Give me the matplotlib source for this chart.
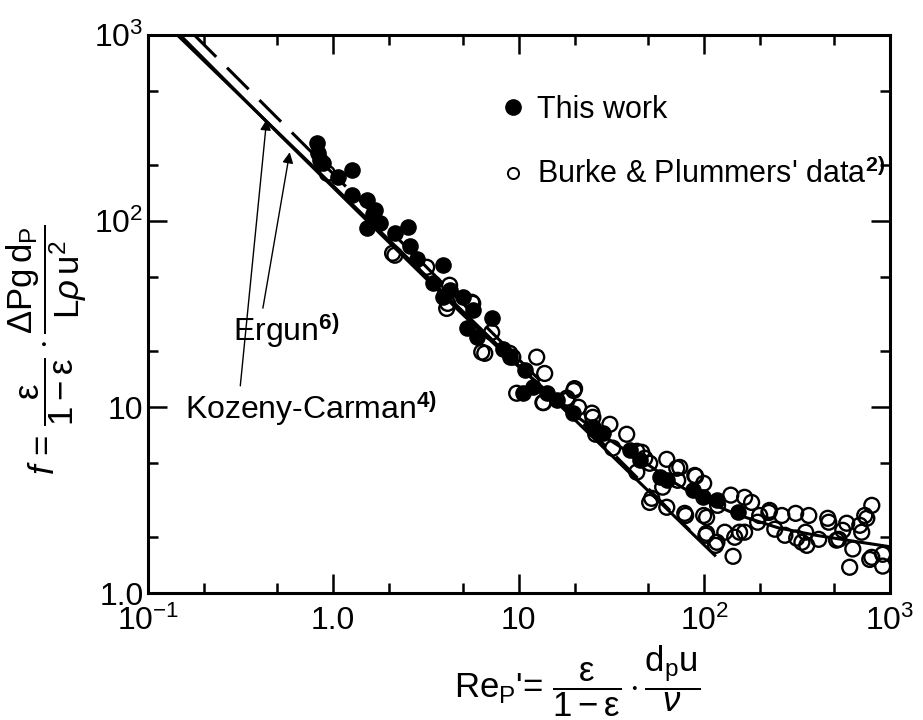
import numpy as np
import matplotlib.pyplot as plt
from matplotlib.lines import Line2D
from matplotlib.ticker import FixedLocator, FixedFormatter, LogLocator, NullFormatter

plt.rcParams['font.family'] = ['Liberation Sans', 'DejaVu Sans']
plt.rcParams['mathtext.fontset'] = 'custom'
plt.rcParams['mathtext.rm'] = 'Liberation Sans'
plt.rcParams['mathtext.it'] = 'Liberation Sans:italic'
plt.rcParams['mathtext.bf'] = 'Liberation Sans:bold'
plt.rcParams['mathtext.sf'] = 'Liberation Sans'

# "This work" (filled circles)
work_re = [0.815, 0.845, 0.83, 0.877, 1.27, 1.06, 1.26, 1.52, 1.67, 1.52, 1.78, 1.63,
           2.15, 2.52, 2.58, 2.82, 3.89, 3.44, 4.24, 4.99, 5.65, 3.89, 7.15, 5.25,
           5.94, 8.2, 8.94, 10.8, 10.5, 11.9, 14.2, 16.0, 19.5, 25.1, 28.4, 39.6,
           44.9, 57.5, 62.8, 86.7, 98.2, 117, 152]
work_f = [262, 213, 232, 205, 188, 173, 138, 130, 115, 92, 97.5, 110,
          86, 93, 74, 63, 58, 46.4, 42.6, 39, 33.2, 39, 30.1, 26.6,
          23.8, 20.7, 18.6, 15.8, 11.9, 12.8, 12.0, 10.9, 9.3, 7.8, 7.24, 5.87,
          5.19, 4.2, 4.05, 3.58, 3.28, 3.16, 2.72]

# Burke & Plummer's data (open circles)
bp_re = [19.8, 13.6, 21.0, 25.1, 31.0, 38.2, 26.0, 32.1, 43.3, 47.8, 62.8, 71.1,
         89.9, 99.3, 50.8, 62.8, 79.4, 99.3, 102, 115, 139, 165, 180, 223,
         262, 311, 366, 469, 558, 689, 800, 752, 608, 632, 780, 916,
         916, 143, 146, 165, 129, 272, 336, 352, 414, 531, 194, 240,
         118, 225, 315, 357, 463, 517, 586, 706, 733, 800, 155, 199,
         18.2, 46.0, 43.3, 50.8, 73.8, 88.9, 52.1, 78.5, 103, 103, 117, 59.7,
         71.9, 2.15, 4.14, 6.32, 3.19, 7.15, 9.29, 9.75, 4.24, 5.58, 6.56, 8.94,
         12.5, 13.8, 13.5, 20.0, 24.8, 18.2, 5.65, 4.09, 0.93, 2.09]
bp_f = [12.3, 10.6, 10.0, 8.83, 8.1, 7.16, 7.16, 6.03, 5.8, 5.32, 5.25, 4.7,
        4.26, 3.9, 3.08, 2.9, 2.62, 2.62, 2.05, 1.81, 3.37, 3.28, 3.08, 2.72,
        2.62, 2.69, 2.62, 2.41, 2.18, 2.32, 2.97, 2.53, 1.38, 1.73, 1.52, 1.40,
        1.62, 1.58, 2.0, 2.13, 2.13, 2.05, 1.88, 2.13, 1.95, 1.95, 2.41, 2.21,
        2.97, 2.79, 1.98, 1.81, 2.53, 1.93, 2.38, 2.13, 2.62, 1.56, 2.13, 2.62,
        11.2, 5.73, 4.48, 5.0, 4.75, 4.3, 3.24, 2.69, 2.56, 2.1, 1.88, 3.72,
        4.05, 65.7, 36.2, 19.8, 56.6, 25.3, 18.6, 11.9, 45.3, 36.7, 19.5, 19.5,
        18.6, 15.2, 10.6, 12.6, 9.3, 10.9, 36.2, 34.0, 181, 67.3]

# correlation lines
kc_re = [0.145, 114]
kc_f = [1000, 1.6]
ergun_re = [0.179, 83.6]
ergun_f = [1000, 2.18]
curve_re = [0.15, 0.5, 1, 2, 5, 10, 20, 30, 50, 70, 100, 150, 250, 400, 650, 1000]
curve_f = [1000, 300, 152, 77, 31.5, 16.5, 9.1, 6.8, 4.9, 3.9, 3.15, 2.65, 2.25, 2.05, 1.9, 1.78]

x_ticks = [0.1, 1, 10, 100, 1000]
x_labels = ['$10^{-1}$', '1.0', '10', '$10^{2}$', '$10^{3}$']
y_ticks = [1, 10, 100, 1000]
y_labels = ['1.0', '10', '$10^{2}$', '$10^{3}$']

fig = plt.figure(figsize=(9.23, 7.2), dpi=100)
ax = fig.add_axes([0.160, 0.176, 0.804, 0.775])

ax.plot(kc_re, kc_f, color='black', lw=2.2, zorder=2)
ax.plot(curve_re, curve_f, color='black', lw=2.2, zorder=2)
ax.plot(ergun_re, ergun_f, color='black', lw=2.2, linestyle=(0, (10, 5)), zorder=2)

ax.scatter(bp_re, bp_f, s=115, facecolors='none', edgecolors='black', linewidths=1.7, zorder=3)
ax.scatter(work_re, work_f, s=120, color='black', zorder=4)

ax.set_xscale('log')
ax.set_yscale('log')
ax.set_xlim(0.1, 1000)
ax.set_ylim(1, 1000)

ax.xaxis.set_major_locator(FixedLocator(x_ticks))
ax.xaxis.set_major_formatter(FixedFormatter(x_labels))
ax.yaxis.set_major_locator(FixedLocator(y_ticks))
ax.yaxis.set_major_formatter(FixedFormatter(y_labels))
ax.xaxis.set_minor_locator(LogLocator(base=10, subs=[2, 5]))
ax.yaxis.set_minor_locator(LogLocator(base=10, subs=[2, 5]))
ax.xaxis.set_minor_formatter(NullFormatter())
ax.yaxis.set_minor_formatter(NullFormatter())

ax.tick_params(which='both', direction='in', top=True, right=True, width=1.8, labelsize=23)
ax.tick_params(which='major', length=14)
ax.tick_params(which='minor', length=7)
ax.tick_params(axis='x', pad=9)
ax.tick_params(axis='y', pad=3)
for sp in ax.spines.values():
    sp.set_linewidth(2.2)

# legend
handles = [Line2D([], [], marker='o', color='black', ms=11, linestyle='none'),
           Line2D([], [], marker='o', mfc='none', mec='black', ms=8, mew=1.4, linestyle='none')]
labels = ['This work', r"Burke & Plummers' data$^{\mathbf{2)}}$"]
ax.legend(handles, labels, loc='upper left', bbox_to_anchor=(0.443, 0.943), frameon=False,
          fontsize=22, handlelength=0.6, handletextpad=0.47, labelspacing=1.1)

# annotations
ax.annotate('Kozeny-Carman$^{\\mathbf{4)}}$', xy=(0.438, 353), xytext=(0.158, 9.9),
            fontsize=23, va='center', ha='left',
            arrowprops=dict(arrowstyle='-|>', color='black', lw=1.0, mutation_scale=16,
                            shrinkA=0, shrinkB=0, relpos=(0.22, 1.0)))
ax.annotate('Ergun$^{\\mathbf{6)}}$', xy=(0.583, 235), xytext=(0.287, 25.9),
            fontsize=23, va='center', ha='left',
            arrowprops=dict(arrowstyle='-|>', color='black', lw=1.0, mutation_scale=16,
                            shrinkA=0, shrinkB=0, relpos=(0.28, 1.0)))

fig.text(0.05, 0.515,
         r"$\mathbf{\mathit{f}}$ = $\dfrac{\mathrm{\varepsilon}}{1-\mathrm{\varepsilon}}\cdot"
         r"\dfrac{\Delta\mathrm{Pg\,d_P}}{\mathrm{L}\rho\,\mathrm{u}^2}$",
         rotation=90, ha='center', va='center', fontsize=25)
fig.text(0.625, 0.002,
         r"$\mathrm{Re_P}$'= $\dfrac{\mathrm{\varepsilon}}{1-\mathrm{\varepsilon}}\cdot\dfrac{\mathrm{d_p u}}{\nu}$",
         ha='center', va='bottom', fontsize=25)

fig.savefig('out.png', dpi=100)
